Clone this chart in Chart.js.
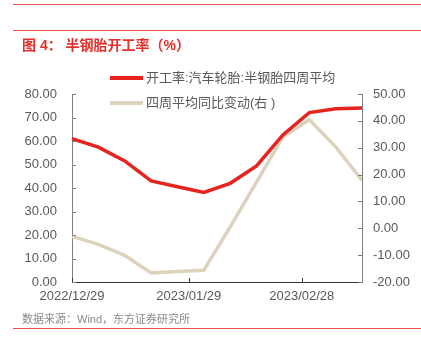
<!DOCTYPE html>
<html>
<head>
<meta charset="utf-8">
<script src="https://cdn.jsdelivr.net/npm/chart.js@4.4.0/dist/chart.umd.min.js"></script>
<style>
    body { margin: 0; background: #fff; }
    #wrap { position: relative; width: 421px; height: 351px; overflow: hidden; }
    #wrap canvas { position: absolute; left: 0; top: 0; }
    .rule { position: absolute; left: 13px; right: 0; height: 1px; background: #e8504c; }
    .txt { position: absolute; white-space: nowrap; font-family: "Liberation Sans", "Noto Sans CJK SC", sans-serif; }
    #title { left: 22px; top: 34px; font-size: 14px; font-weight: bold; color: #e2312d; }
    #source { left: 22px; top: 310px; font-size: 11px; color: #8a8a8a; }
    .leg { position: absolute; left: 110px; font-size: 13px; color: #595959; font-family: "Liberation Sans", "Noto Sans CJK SC", sans-serif; white-space: nowrap; }
    .leg i { display: inline-block; width: 33px; height: 4px; vertical-align: middle; margin-right: 3px; position: relative; top: -1px; }
</style>
</head>
<body>
<div id="wrap">
    <canvas id="chart" width="421" height="351"></canvas>
    <div class="rule" style="top:4px"></div>
    <div class="rule" style="top:30px"></div>
    <div class="rule" style="top:328px"></div>
    <div class="txt" id="title">图 4： 半钢胎开工率（%）</div>
    <div class="txt" id="source">数据来源：Wind，东方证券研究所</div>
    <div class="leg" style="top:67px"><i style="background:#e52420"></i>开工率:汽车轮胎:半钢胎四周平均</div>
    <div class="leg" style="top:92px"><i style="background:#ddd3bd"></i>四周平均同比变动(右 )</div>
</div>
<script>
// weekly dates (Thursdays)
const dates = ['2022-12-29', '2023-01-05', '2023-01-12', '2023-01-19', '2023-01-26', '2023-02-02',
    '2023-02-09', '2023-02-16', '2023-02-23', '2023-03-02', '2023-03-09', '2023-03-16'];
const runRate = [61.0, 57.4, 51.5, 43.0, 40.5, 38.1, 42.0, 49.4, 62.6, 72.1, 73.7, 74.0];
const yoyChange = [-3.0, -6.0, -10.1, -16.6, -16.1, -15.6, 0.5, 17.2, 34.0, 40.5, 30.3, 17.9];
const tickDates = ['2022-12-29', '2023-01-29', '2023-02-28'];

const dayMs = 86400000;
const dayOf = d => (Date.parse(d) - Date.parse(dates[0])) / dayMs;
const fmtDate = d => d.replace(/-/g, '/');

const font = '"Liberation Sans", Arial, sans-serif';
const tickColor = '#595959';

// small tick marks drawn inward, like the source chart
const innerTicks = {
    id: 'innerTicks',
    afterDatasetsDraw(chart) {
        const { ctx, chartArea: a, scales } = chart;
        ctx.save();
        ctx.lineWidth = 1;
        ctx.strokeStyle = '#808080';
        scales.y.ticks.forEach(t => {
            const py = Math.round(scales.y.getPixelForValue(t.value)) + 0.5;
            ctx.beginPath(); ctx.moveTo(a.left, py); ctx.lineTo(a.left + 4, py); ctx.stroke();
        });
        scales.y1.ticks.forEach(t => {
            const py = Math.round(scales.y1.getPixelForValue(t.value)) + 0.5;
            ctx.beginPath(); ctx.moveTo(a.right, py); ctx.lineTo(a.right - 4, py); ctx.stroke();
        });
        ctx.strokeStyle = '#333';
        scales.x.ticks.forEach(t => {
            const px = Math.round(scales.x.getPixelForValue(t.value)) + 0.5;
            ctx.beginPath(); ctx.moveTo(px, a.bottom); ctx.lineTo(px, a.bottom - 4); ctx.stroke();
        });
        ctx.restore();
    }
};

new Chart(document.getElementById('chart'), {
    type: 'line',
    data: {
        datasets: [{
            label: '开工率:汽车轮胎:半钢胎四周平均',
            data: dates.map((d, i) => ({ x: dayOf(d), y: runRate[i] })),
            borderColor: '#e52420',
            borderWidth: 3.5,
            pointRadius: 0,
            yAxisID: 'y'
        }, {
            label: '四周平均同比变动(右 )',
            data: dates.map((d, i) => ({ x: dayOf(d), y: yoyChange[i] })),
            borderColor: '#ddd3bd',
            borderWidth: 3.5,
            pointRadius: 0,
            yAxisID: 'y1'
        }]
    },
    options: {
        responsive: false,
        animation: false,
        layout: { padding: { top: 94 } },
        plugins: {
            legend: { display: false },
            tooltip: { enabled: false }
        },
        scales: {
            x: {
                type: 'linear',
                min: 0,
                max: dayOf(dates[dates.length - 1]),
                afterBuildTicks: scale => {
                    scale.ticks = tickDates.map(d => ({ value: dayOf(d) }));
                },
                afterFit: scale => { scale.height = 69; },
                ticks: {
                    color: tickColor,
                    padding: 7,
                    maxRotation: 0,
                    font: { family: font, size: 13 },
                    callback: v => {
                        const d = tickDates.find(t => dayOf(t) === v);
                        return d ? fmtDate(d) : '';
                    }
                },
                grid: { drawOnChartArea: false, drawTicks: false },
                border: { color: '#333', width: 1 }
            },
            y: {
                position: 'left',
                min: 0,
                max: 80,
                afterFit: scale => { scale.width = 72; },
                ticks: {
                    stepSize: 10,
                    color: tickColor,
                    padding: 15,
                    font: { family: font, size: 13 },
                    callback: v => v.toFixed(2)
                },
                grid: { drawOnChartArea: false, drawTicks: false },
                border: { color: '#808080', width: 1 }
            },
            y1: {
                position: 'right',
                min: -20,
                max: 50,
                afterFit: scale => { scale.width = 59; },
                ticks: {
                    stepSize: 10,
                    color: tickColor,
                    padding: 11,
                    font: { family: font, size: 13 },
                    callback: v => v.toFixed(2)
                },
                grid: { drawOnChartArea: false, drawTicks: false },
                border: { color: '#808080', width: 1 }
            }
        }
    },
    plugins: [innerTicks]
});
</script>
</body>
</html>
